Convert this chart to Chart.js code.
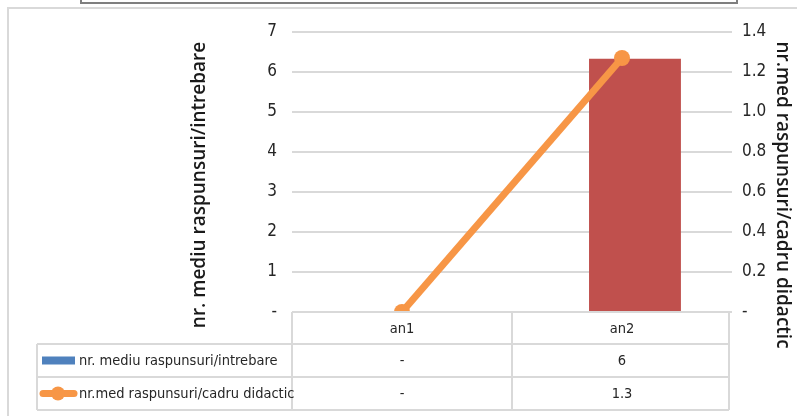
<!DOCTYPE html>
<html>
<head>
<meta charset="utf-8">
<script src="https://cdn.jsdelivr.net/npm/chart.js@4.4.1/dist/chart.umd.min.js"></script>
<style>
  html, body { margin: 0; padding: 0; background: #fff; }
  #wrap { width: 797px; height: 416px; }
</style>
</head>
<body>
<div id="wrap"><canvas id="grafic" width="797" height="416"></canvas></div>
<script>
// date
const categorii = ['an1', 'an2'];
const mediuIntrebare = [0, 6.33];
const medCadru = [0, 1.27];
const numeBare = 'nr. mediu raspunsuri/intrebare';
const numeLinie = 'nr.med raspunsuri/cadru didactic';
const ticksStanga = [0, 1, 2, 3, 4, 5, 6, 7];
const ticksDreapta = [0, 0.2, 0.4, 0.6, 0.8, 1.0, 1.2, 1.4];

const FONT = '"Liberation Sans Narrow", "DejaVu Sans Condensed", sans-serif';
const GRI = '#d9d9d9';
const ALBASTRU = '#4f81bd';
const ROSU = '#c0504d';
const PORTOCALIU = '#f79646';

// afisare tip Excel: 0 -> '-'
function fmt(v, zec) {
  if (!v) return '-';
  return zec ? v.toFixed(zec) : String(Math.round(v));
}

const tabelPlugin = {
  id: 'tabel',
  beforeDraw(chart) {
    const c = chart.ctx;
    c.save();
    // rama de fundal
    c.strokeStyle = GRI;
    c.lineWidth = 2;
    c.beginPath();
    c.moveTo(8, 416); c.lineTo(8, 8); c.lineTo(797, 8);
    c.stroke();
    c.strokeStyle = '#7f7f7f';
    c.lineWidth = 2;
    c.beginPath();
    c.moveTo(81, 0); c.lineTo(81, 3); c.lineTo(737, 3); c.lineTo(737, 0);
    c.stroke();
    c.restore();
  },
  afterDraw(chart) {
    const c = chart.ctx;
    const area = chart.chartArea;
    const x = chart.scales.x;
    const L = area.left, R = area.right - 3;
    const top = area.bottom;
    const r1 = top + 32, r2 = r1 + 33, r3 = r2 + 33;
    const leftT = 37;
    c.save();
    c.strokeStyle = GRI;
    c.lineWidth = 2;
    c.beginPath();
    // orizontale
    c.moveTo(L, top); c.lineTo(R, top);
    c.moveTo(leftT, r1); c.lineTo(R, r1);
    c.moveTo(leftT, r2); c.lineTo(R, r2);
    c.moveTo(leftT, r3); c.lineTo(R, r3);
    // verticale
    c.moveTo(leftT, r1); c.lineTo(leftT, r3);
    c.moveTo(L, top); c.lineTo(L, r3);
    const mid = (x.getPixelForValue(0) + x.getPixelForValue(1)) / 2;
    c.moveTo(mid, top); c.lineTo(mid, r3);
    c.moveTo(R, top); c.lineTo(R, r3);
    c.stroke();

    c.fillStyle = '#262626';
    c.font = '14.5px ' + FONT;
    c.textAlign = 'center';
    c.textBaseline = 'middle';
    categorii.forEach((cat, i) => {
      const cx = x.getPixelForValue(i);
      c.fillText(cat, cx, (top + r1) / 2 + 1);
      c.fillText(fmt(mediuIntrebare[i]), cx, (r1 + r2) / 2 + 1);
      c.fillText(fmt(medCadru[i], 1), cx, (r2 + r3) / 2 + 1);
    });

    // legenda in tabel
    c.textAlign = 'left';
    c.fillStyle = ALBASTRU;
    c.fillRect(42, (r1 + r2) / 2 - 4, 33, 8);
    c.fillStyle = '#262626';
    c.fillText(numeBare, 79, (r1 + r2) / 2 + 1);
    const ly = (r2 + r3) / 2;
    c.strokeStyle = PORTOCALIU;
    c.lineWidth = 7;
    c.lineCap = 'round';
    c.beginPath(); c.moveTo(43, ly); c.lineTo(74, ly); c.stroke();
    c.fillStyle = PORTOCALIU;
    c.beginPath(); c.arc(58, ly, 7, 0, Math.PI * 2); c.fill();
    c.fillStyle = '#262626';
    c.fillText(numeLinie, 79, ly + 1);

    // titluri axe
    c.font = '600 19px "Open Sans", sans-serif';
    c.fillStyle = '#1a1a1a';
    c.textAlign = 'center';
    c.translate(200, 185);
    c.rotate(-Math.PI / 2);
    c.fillText(numeBare, 0, 0);
    c.restore();
    c.save();
    c.font = '600 19px "Open Sans", sans-serif';
    c.fillStyle = '#1a1a1a';
    c.textAlign = 'center';
    c.textBaseline = 'middle';
    c.translate(782, 195);
    c.rotate(Math.PI / 2);
    c.fillText(numeLinie, 0, 0);
    c.restore();
  }
};

new Chart(document.getElementById('grafic'), {
  type: 'bar',
  plugins: [tabelPlugin],
  data: {
    labels: categorii,
    datasets: [{
      type: 'line',
      label: numeLinie,
      data: medCadru,
      yAxisID: 'y1',
      borderColor: PORTOCALIU,
      backgroundColor: PORTOCALIU,
      borderWidth: 7,
      pointRadius: 8,
      pointHoverRadius: 8,
      pointBorderWidth: 0,
      order: 0
    }, {
      // serie goala, ocupa locul din stanga in grup
      label: '',
      data: [null, null],
      yAxisID: 'y',
      backgroundColor: ALBASTRU,
      order: 1
    }, {
      label: numeBare,
      data: mediuIntrebare,
      yAxisID: 'y',
      backgroundColor: [ALBASTRU, ROSU],
      order: 2
    }]
  },
  options: {
    responsive: false,
    animation: false,
    layout: { padding: { left: 0, right: 0, top: 32, bottom: 104 } },
    plugins: {
      legend: { display: false },
      tooltip: { enabled: false }
    },
    datasets: {
      bar: { categoryPercentage: 0.236, barPercentage: 3.54 }
    },
    scales: {
      x: { display: false, offset: true },
      y: {
        position: 'left',
        min: 0,
        max: 7,
        afterBuildTicks: (s) => { s.ticks = ticksStanga.map(v => ({ value: v })); },
        afterFit: (s) => { s.width = 292; },
        ticks: {
          padding: 15,
          color: '#262626',
          font: { family: FONT, size: 17 },
          callback: (v) => v === 0 ? '-' : String(v)
        },
        grid: { color: GRI, lineWidth: 2, drawTicks: false },
        border: { display: false }
      },
      y1: {
        position: 'right',
        min: 0,
        max: 1.4,
        afterBuildTicks: (s) => { s.ticks = ticksDreapta.map(v => ({ value: v })); },
        afterFit: (s) => { s.width = 65; },
        ticks: {
          padding: 10,
          color: '#262626',
          font: { family: FONT, size: 17 },
          callback: (v) => v === 0 ? '-' : v.toFixed(1)
        },
        grid: { display: false, drawTicks: false },
        border: { display: false }
      }
    }
  }
});
</script>
</body>
</html>
